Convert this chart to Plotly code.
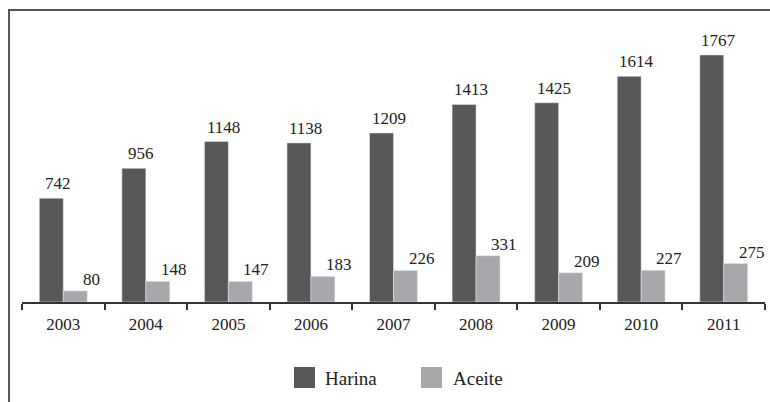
import plotly.graph_objects as go

years = ["2003", "2004", "2005", "2006", "2007", "2008", "2009", "2010", "2011"]
harina = [742, 956, 1148, 1138, 1209, 1413, 1425, 1614, 1767]
aceite = [80, 148, 147, 183, 226, 331, 209, 227, 275]

FONT = "'Liberation Serif', 'Times New Roman', 'DejaVu Serif', serif"
C_H = "#58585a"
C_A = "#a7a8ab"
TXT = "#222"

OFF = 0  # body margin removed via post_script
W, H = 770 - OFF, 402 - OFF
L, R, T = 22 - OFF, 5, 20 - OFF
B = H - (302 - OFF)
pw, ph = W - L - R, H - T - B

def px(x):
    return (x - OFF - L) / pw

def py(y):
    return (H - B - (y - OFF)) / ph

fig = go.Figure()
for name, vals, col in [("Harina", harina, C_H), ("Aceite", aceite, C_A)]:
    fig.add_trace(go.Bar(x=years, y=vals, name=name, marker_color=col))

annotations = []
# value labels, offset to the right of each bar (as in the original)
for vals, xs, ys in [(harina, -5, 3), (aceite, 28, 0)]:
    for i, v in enumerate(vals):
        annotations.append(dict(x=i, y=v, xref="x", yref="y", text=str(v),
                                showarrow=False, xanchor="center", yanchor="bottom",
                                xshift=xs, yshift=ys,
                                font=dict(family=FONT, size=17, color=TXT)))

shapes = [
    dict(type="line", xref="paper", yref="paper", x0=px(8), x1=px(775), y0=py(10), y1=py(10),
         line=dict(color="#555", width=2)),
    dict(type="line", xref="paper", yref="paper", x0=px(9), x1=px(9), y0=py(9), y1=py(410),
         line=dict(color="#555", width=2)),
]
legend_items = [("Harina", C_H, 294, 323), ("Aceite", C_A, 421, 451)]
for name, col, sx, tx in legend_items:
    shapes.append(dict(type="rect", xref="paper", yref="paper",
                       x0=px(sx), x1=px(sx + 21), y0=py(367), y1=py(388),
                       fillcolor=col, line=dict(width=0)))
    annotations.append(dict(text=name, xref="paper", yref="paper", x=px(tx), y=py(378),
                            xanchor="left", yanchor="middle", showarrow=False,
                            font=dict(family=FONT, size=19, color=TXT)))

fig.update_layout(
    width=W, height=H,
    margin=dict(l=L, r=R, t=T, b=B),
    paper_bgcolor="white", plot_bgcolor="white",
    barmode="group", bargap=0.42, bargroupgap=0,
    font=dict(family=FONT, size=17, color=TXT),
    showlegend=False,
    hovermode=False,
    xaxis=dict(type="category", showline=True, linecolor="#333", linewidth=1.5, ticks="outside",
               tickson="boundaries", ticklen=6, tickcolor="#333", tickwidth=1.5,
               range=[-0.5, 8.5], showgrid=False, ticklabelstandoff=6,
               tickfont=dict(family=FONT, size=17, color=TXT)),
    yaxis=dict(visible=False, range=[0, ph / 0.1398], showgrid=False),
    shapes=shapes,
    annotations=annotations,
)

fig.write_html("out.html", config={"displayModeBar": False},
               post_script="document.body.style.margin='0';document.body.style.overflow='hidden';")
